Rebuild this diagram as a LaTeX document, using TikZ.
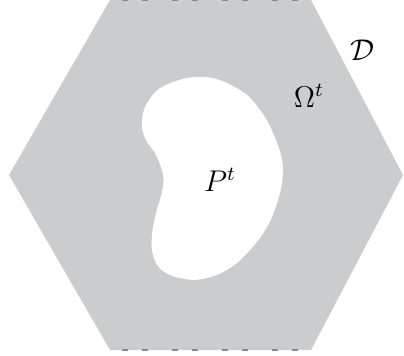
\documentclass[tikz,border=0pt]{standalone}
\usetikzlibrary{positioning}
\definecolor{hexgray}{RGB}{203,204,206}
\definecolor{perigray}{RGB}{138,138,140}
\tikzset{
  hexfill/.style={fill=hexgray,draw=none},
  particle/.style={fill=white,draw=none},
  periodic/.style={perigray,line width=0.8pt,dash pattern=on 2.4pt off 5.6pt on 2.4pt off 9.6pt,dash phase=15.2pt},
  lab/.style={inner sep=0pt,font=\large}
}
\begin{document}
\begin{tikzpicture}[x=0.4pt,y=-0.4pt]
  \useasboundingbox (0,0) rectangle (404,355);
  % hexagonal cell
  \coordinate (tl) at (110,0); \coordinate (tr) at (311,0); \coordinate (r) at (403,175);
  \coordinate (br) at (311,350); \coordinate (bl) at (110,350); \coordinate (l) at (9,175);
  \fill[hexfill] (tl) -- (tr) -- (r) -- (br) -- (bl) -- (l) -- cycle;
  \draw[periodic] (tl) -- (tr); \draw[periodic] (bl) -- (br);
  % particle
  \fill[particle] plot[smooth cycle,tension=0.7] coordinates {
    (205,77) (240,90) (260,110) (273,133) (282,160) (282,182) (277,203) (267,227)
    (250,250) (230,268) (207,278) (185,279) (163,271) (153,255) (152,235) (156,213)
    (162,192) (163,175) (156,155) (145,138) (142,120) (149,100) (168,84)};
  \node[lab] (P) at (220,180) {$P^t$};
  \node[lab] (Om) at (309,96) {$\Omega^t$};
  \node[lab] (D) at (362,50) {$\mathcal{D}$};
\end{tikzpicture}
\end{document}
